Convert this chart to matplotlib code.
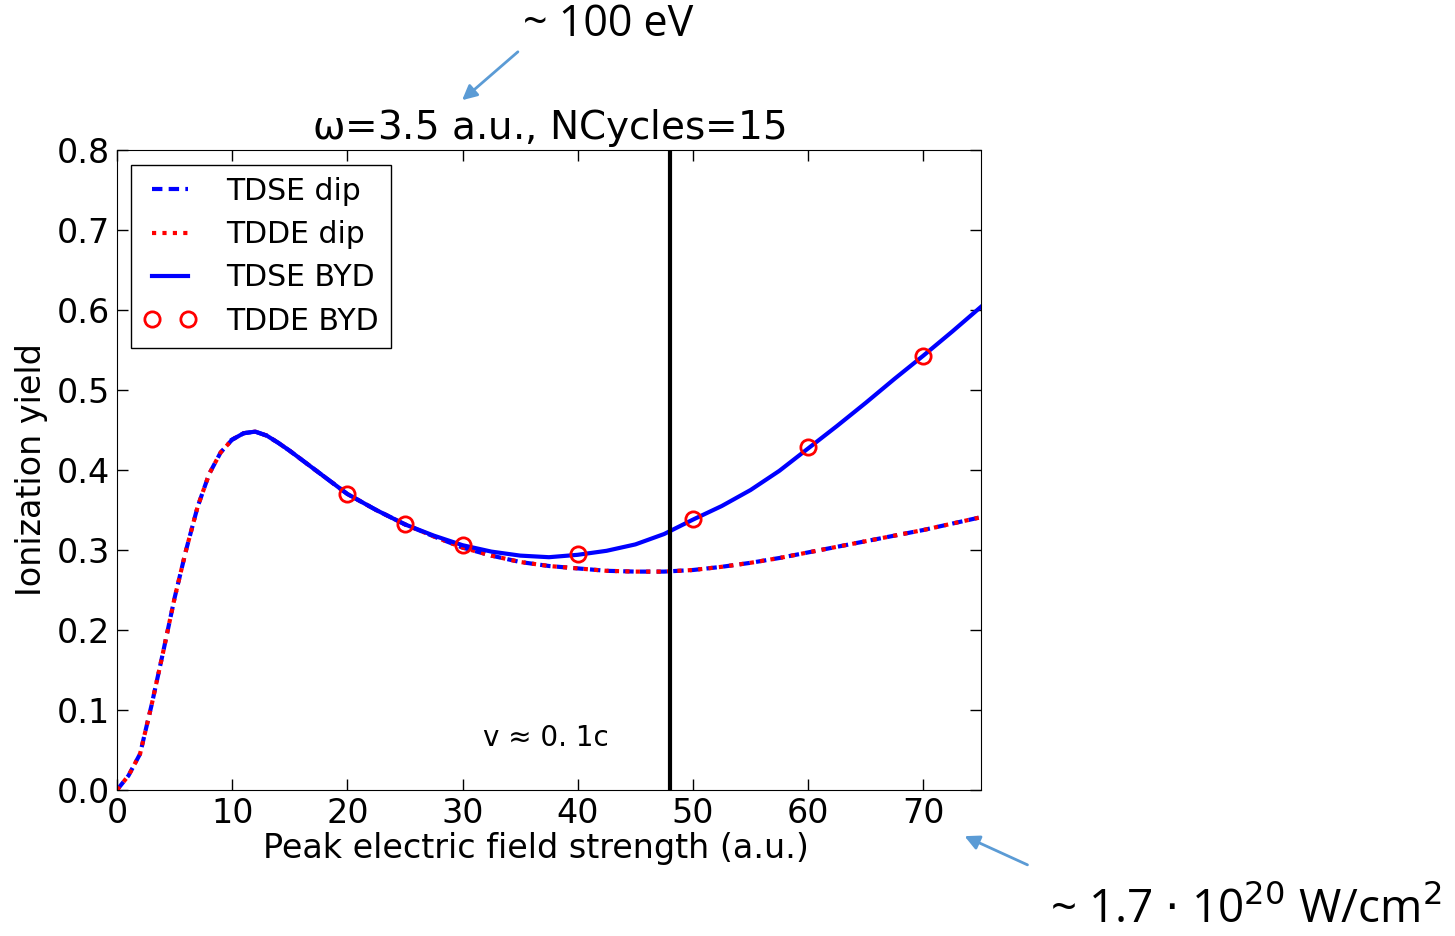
import matplotlib
matplotlib.use('Agg')
import matplotlib.pyplot as plt

# field strength (a.u.) and ionization yield
x_dip = [0, 1, 2, 3, 4, 5, 6, 7, 8, 9, 10, 11, 12, 13, 14, 15, 17.5, 20, 22.5, 25,
         27.5, 30, 32.5, 35, 37.5, 40, 42.5, 45, 47.5, 50, 52.5, 55, 57.5, 60,
         62.5, 65, 67.5, 70, 72.5, 75]
tdse_dip = [0.0, 0.018, 0.045, 0.106, 0.172, 0.24, 0.3, 0.354, 0.395, 0.422, 0.438,
            0.446, 0.448, 0.443, 0.434, 0.424, 0.397, 0.37, 0.35, 0.332, 0.317,
            0.303, 0.293, 0.285, 0.28, 0.277, 0.274, 0.273, 0.273, 0.275, 0.279,
            0.284, 0.29, 0.297, 0.304, 0.311, 0.318, 0.325, 0.333, 0.341]
tdde_dip = tdse_dip

x_byd = [10, 11, 12, 13, 14, 15, 17.5, 20, 22.5, 25, 27.5, 30, 32.5, 35, 37.5, 40,
         42.5, 45, 47.5, 50, 52.5, 55, 57.5, 60, 62.5, 65, 67.5, 70, 72.5, 75]
tdse_byd = [0.438, 0.446, 0.448, 0.443, 0.434, 0.424, 0.397, 0.37, 0.35, 0.332,
            0.318, 0.306, 0.298, 0.293, 0.291, 0.294, 0.299, 0.307, 0.32, 0.338,
            0.355, 0.375, 0.399, 0.427, 0.455, 0.484, 0.514, 0.543, 0.573, 0.604]

x_tdde_byd = [20, 25, 30, 40, 50, 60, 70]
tdde_byd = [0.37, 0.332, 0.306, 0.295, 0.339, 0.429, 0.542]

v_line = 48

fig = plt.figure(figsize=(14.55, 9.36), dpi=100)
ax = fig.add_axes([0.0804, 0.156, 0.5938, 0.6837])

ax.plot(x_dip, tdse_dip, color='blue', ls=(0, (2.5, 1.5)), lw=3, label='TDSE dip')
ax.plot(x_dip, tdde_dip, color='red', ls=(0, (1, 1.5)), lw=3, label='TDDE dip')
ax.plot(x_byd, tdse_byd, color='blue', ls='-', lw=3, label='TDSE BYD')
ax.plot(x_tdde_byd, tdde_byd, 'o', mfc='none', mec='red', mew=2, ms=11,
        label='TDDE BYD')
ax.axvline(v_line, color='black', lw=3)

ax.text(31.8, 0.065, 'v ≈ 0. 1c', fontsize=20, ha='left', va='center')

ax.set_xlim(0, 75)
ax.set_ylim(0, 0.8)
ax.set_xticks([0, 10, 20, 30, 40, 50, 60, 70])
ax.set_yticks([0.0, 0.1, 0.2, 0.3, 0.4, 0.5, 0.6, 0.7, 0.8])
ax.tick_params(direction='in', top=True, right=True, labelsize=24, length=8, width=1,
               pad=5)
ax.set_xlabel('Peak electric field strength (a.u.)', fontsize=24, labelpad=0)
ax.xaxis.set_label_coords(0.485, -0.065)
ax.set_ylabel('Ionization yield', fontsize=24, labelpad=6)
ax.set_title(r'$\mathrm{\omega}$=3.5 a.u., NCycles=15', fontsize=28, pad=8)

leg = ax.legend(loc='upper left', fontsize=21.5, numpoints=2, fancybox=False,
                framealpha=1, edgecolor='black', handlelength=1.8,
                borderpad=0.4, labelspacing=0.48, handletextpad=1.0,
                borderaxespad=0, bbox_to_anchor=(0.016, 0.977))
leg.get_frame().set_linewidth(1)

# outside annotations
fig.text(523 / 1455, 1 - 25 / 936, '~ 100 eV', fontsize=31, family='Open Sans',
         va='center')
fig.add_artist(matplotlib.patches.FancyArrowPatch(
    (520 / 1455, 1 - 50 / 936), (460 / 1455, 1 - 102 / 936),
    transform=fig.transFigure, arrowstyle='-|>', mutation_scale=22,
    color='#5b9bd5', lw=2))
fig.text(1050 / 1455, 1 - 910 / 936, r'~ 1.7 $\cdot$ 10$^{20}$ W/cm$^{2}$',
         fontsize=33, family='Open Sans', va='center')
fig.add_artist(matplotlib.patches.FancyArrowPatch(
    (1030 / 1455, 1 - 866 / 936), (962 / 1455, 1 - 835 / 936),
    transform=fig.transFigure, arrowstyle='-|>', mutation_scale=22,
    color='#5b9bd5', lw=2))

fig.savefig('out.png', dpi=100)
